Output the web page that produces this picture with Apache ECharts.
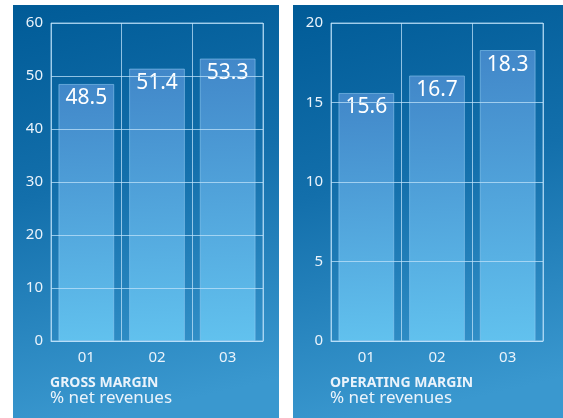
<!DOCTYPE html>
<html>
<head>
<meta charset="utf-8">
<script src="https://cdn.jsdelivr.net/npm/echarts@6/dist/echarts.min.js"></script>
<style>
  html, body { margin: 0; padding: 0; background: #ffffff; }
  #chart { width: 563px; height: 418px; }
</style>
</head>
<body>
<div id="chart"></div>
<script>
// Years shown on both panels
const years = ['01', '02', '03'];
// Gross margin, % of net revenues
const grossMargin = [48.5, 51.4, 53.3];
// Operating margin, % of net revenues
const operatingMargin = [15.6, 16.7, 18.3];
// Panel titles
const panelTitles = ['GROSS MARGIN', 'OPERATING MARGIN'];
const panelSubtitle = '% net revenues';

const FONT = 'Noto Sans';
const lineColor = 'rgba(190,225,250,0.75)';
const textColor = '#eaf3fb';

const chart = echarts.init(document.getElementById('chart'), null, { renderer: 'canvas' });

function panelFill() {
  return new echarts.graphic.LinearGradient(0, 0, 0.35, 1, [
    { offset: 0, color: '#005b97' },
    { offset: 0.45, color: '#136fab' },
    { offset: 1, color: '#3a98cf' }
  ]);
}

function barFill() {
  return new echarts.graphic.LinearGradient(0, 0, 0.2, 1, [
    { offset: 0, color: 'rgba(70,138,204,0.92)' },
    { offset: 1, color: 'rgba(100,196,240,0.95)' }
  ]);
}

function xAxisFor(gridIndex) {
  return {
    type: 'category', gridIndex, data: years,
    axisLine: { show: true, lineStyle: { color: lineColor, width: 1 } },
    axisTick: { show: false },
    axisLabel: { color: textColor, fontSize: 15, fontFamily: FONT, margin: 9 },
    splitLine: { show: true, lineStyle: { color: lineColor, width: 1 } },
    z: 3
  };
}

function yAxisFor(gridIndex, max, interval) {
  return {
    type: 'value', gridIndex, min: 0, max, interval,
    axisLine: { show: false },
    axisTick: { show: false },
    axisLabel: { color: textColor, fontSize: 15, fontFamily: FONT, margin: 8 },
    splitLine: { show: true, lineStyle: { color: lineColor, width: 1 } },
    z: 3
  };
}

function barSeries(idx, data) {
  return {
    type: 'bar', xAxisIndex: idx, yAxisIndex: idx, data,
    barCategoryGap: '21%',
    itemStyle: { color: barFill(), borderColor: 'rgba(150,205,245,0.55)', borderWidth: 1 },
    label: {
      show: true, position: 'insideTop', distance: 4,
      color: '#ffffff', fontSize: 21, fontFamily: FONT,
      formatter: p => p.value.toFixed(1)
    },
    z: 2
  };
}

function titleFor(left, text) {
  return {
    left, top: 371, text, subtext: panelSubtitle, itemGap: 0,
    textStyle: { color: textColor, fontSize: 14, fontWeight: 'bold', fontFamily: FONT },
    subtextStyle: { color: textColor, fontSize: 17, fontFamily: FONT }
  };
}

chart.setOption({
  animation: false,
  graphic: [
    { type: 'rect', z: -100, shape: { x: 13, y: 5, width: 266, height: 413 }, style: { fill: panelFill() } },
    { type: 'rect', z: -100, shape: { x: 293, y: 5, width: 270, height: 413 }, style: { fill: panelFill() } }
  ],
  title: [titleFor(45, panelTitles[0]), titleFor(325, panelTitles[1])],
  grid: [
    { left: 51, right: 300, top: 23, bottom: 77, show: true, borderColor: lineColor, borderWidth: 1, backgroundColor: 'transparent' },
    { left: 331, right: 20, top: 23, bottom: 77, show: true, borderColor: lineColor, borderWidth: 1, backgroundColor: 'transparent' }
  ],
  xAxis: [xAxisFor(0), xAxisFor(1)],
  yAxis: [yAxisFor(0, 60, 10), yAxisFor(1, 20, 5)],
  series: [barSeries(0, grossMargin), barSeries(1, operatingMargin)]
});
</script>
</body>
</html>
